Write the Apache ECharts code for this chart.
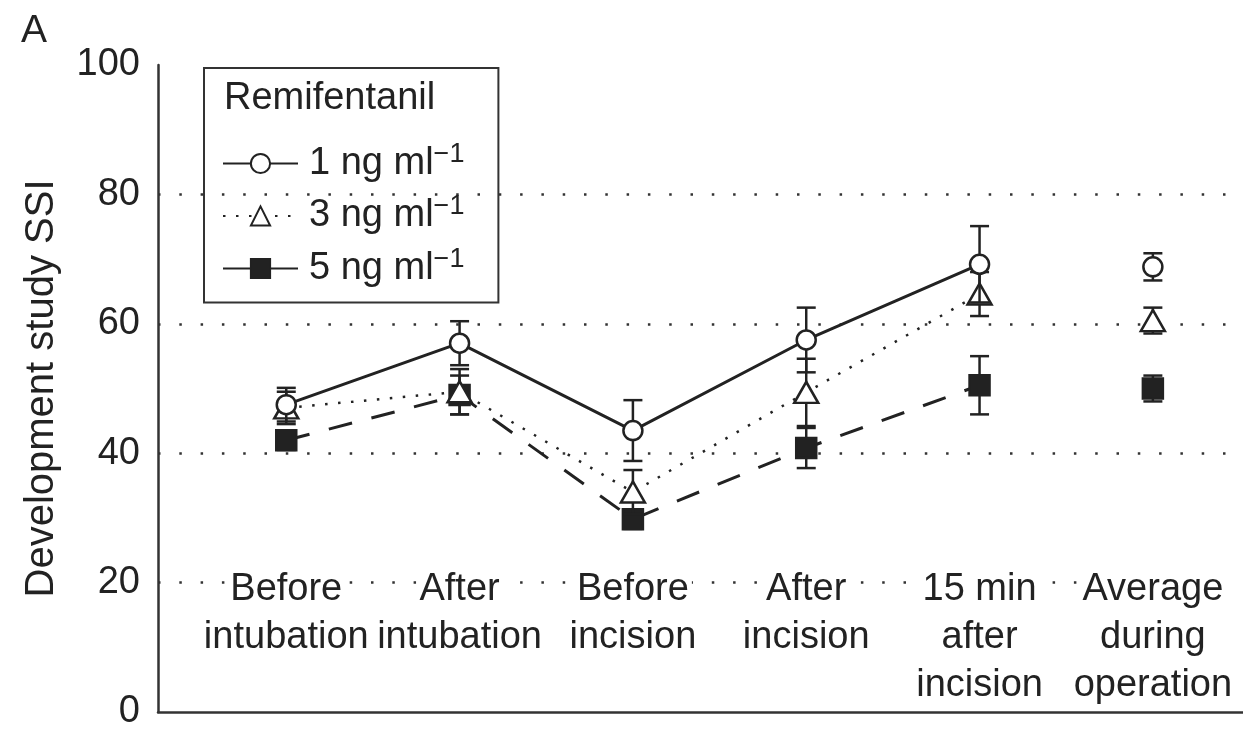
<!DOCTYPE html>
<html><head><meta charset="utf-8">
<script src="https://cdn.jsdelivr.net/npm/echarts@6/dist/echarts.min.js"></script>
<style>html,body{margin:0;padding:0;background:#fff}#c{width:1243px;height:731px}</style>
</head><body><div id="c"></div>
<script>
// ---- data ----
const categories = ['Before\nintubation', 'After\nintubation', 'Before\nincision', 'After\nincision', '15 min\nafter\nincision', 'Average\nduring\noperation'];
const seriesNames = ['1 ng ml−1', '3 ng ml−1', '5 ng ml−1'];
const mean1 = [47.5, 57.0, 43.5, 57.5, 69.2, 68.8];
const se1   = [2.6, 3.4, 4.7, 5.0, 5.9, 2.1];
const mean3 = [47.0, 49.5, 34.0, 49.4, 64.6, 60.5];
const se3   = [2.5, 3.5, 3.4, 5.2, 3.4, 2.0];
const mean5 = [42.0, 49.0, 29.8, 40.8, 50.5, 50.0];
const se5   = [1.5, 3.0, 1.5, 3.1, 4.5, 2.0];
const yTicks = [0, 20, 40, 60, 80, 100];
const legendTitle = 'Remifentanil';
const panelLabel = 'A';
const yName = 'Development study SSI';

const INK = '#222';
const FONT = '"Liberation Sans", Arial, Helvetica, sans-serif';
const nConnected = 5; // "Average during operation" is not joined to the others

const groups = [
  {name: seriesNames[0], mean: mean1, se: se1, symbol: 'circle', size: 19, fill: '#fff', line: {type: 'solid', width: 3}, z: 7},
  {name: seriesNames[1], mean: mean3, se: se3, symbol: 'triangle', size: [24, 21], fill: '#fff', line: {type: [2.5, 10.5], width: 2.5}, z: 5},
  {name: seriesNames[2], mean: mean5, se: se5, symbol: 'rect', size: 20, fill: INK, line: {type: [24, 20], width: 3}, z: 3}
];

function errRender(params, api) {
  const x = api.value(0);
  const lo = api.coord([x, api.value(1)]);
  const hi = api.coord([x, api.value(2)]);
  const w = 9.5;
  const style = {stroke: INK, lineWidth: 2.5, fill: null};
  return {type: 'group', children: [
    {type: 'line', shape: {x1: lo[0], y1: lo[1], x2: hi[0], y2: hi[1]}, style},
    {type: 'line', shape: {x1: lo[0] - w, y1: lo[1], x2: lo[0] + w, y2: lo[1]}, style},
    {type: 'line', shape: {x1: hi[0] - w, y1: hi[1], x2: hi[0] + w, y2: hi[1]}, style}
  ]};
}

const series = [];
groups.forEach(g => {
  series.push({
    type: 'custom', name: g.name + ' SE', z: g.z - 1, silent: true,
    renderItem: errRender,
    data: g.mean.map((v, i) => [i, v - g.se[i], v + g.se[i]])
  });
  series.push({
    type: 'line', name: g.name, z: g.z,
    symbol: g.symbol, symbolSize: g.size, showAllSymbol: true,
    itemStyle: {color: g.fill, borderColor: INK, borderWidth: 2.5},
    lineStyle: {color: INK, width: g.line.width, type: g.line.type, cap: 'butt'},
    data: g.mean.slice(0, nConnected).map((v, i) => [i, v])
  });
  series.push({
    type: 'scatter', name: g.name, z: g.z,
    symbol: g.symbol, symbolSize: g.size,
    itemStyle: {color: g.fill, borderColor: INK, borderWidth: 2.5, opacity: 1},
    data: g.mean.slice(nConnected).map((v, i) => [i + nConnected, v])
  });
});

const option = {
  animation: false,
  backgroundColor: '#fff',
  textStyle: {fontFamily: FONT, color: INK},
  title: [
    {text: panelLabel, left: 21, top: 12, padding: 0, textStyle: {fontFamily: FONT, fontSize: 39, fontWeight: 'normal', color: INK}},
    {text: legendTitle, left: 224, top: 80, padding: 0, textStyle: {fontFamily: FONT, fontSize: 38, fontWeight: 'normal', color: INK}}
  ],
  legend: {
    orient: 'vertical', left: 204, top: 68,
    padding: [73, 34, 15, 18],
    borderColor: '#333', borderWidth: 2,
    itemWidth: 75, itemHeight: 24, itemGap: 11,
    data: groups.map((g, i) => i === 2 ? {name: g.name, lineStyle: {type: 'solid'}} : {name: g.name}),
    formatter: n => { const p = n.split('−'); return '{t|' + p[0] + '}{s|−' + p[1] + '}'; },
    textStyle: {
      fontFamily: FONT, color: INK, fontSize: 38, padding: [0, 0, 0, 6],
      rich: {
        t: {fontFamily: FONT, fontSize: 38, lineHeight: 44, color: INK},
        s: {fontFamily: FONT, fontSize: 27, color: INK, padding: [0, 0, 18, 0]}
      }
    }
  },
  grid: {left: 158, right: 0, top: 65, bottom: 16, containLabel: false},
  xAxis: {
    type: 'value', min: -0.74, max: 5.52,
    axisLine: {show: true, onZero: false, lineStyle: {color: '#333', width: 2.5}},
    axisTick: {show: false},
    splitLine: {show: false},
    axisLabel: {
      customValues: categories.map((c, i) => i),
      formatter: v => categories[Math.round(v)].split('\n').map(s => '{b|' + s + '}').join('\n'),
      inside: true, margin: 146, verticalAlign: 'top', align: 'center',
      fontFamily: FONT, fontSize: 38, lineHeight: 48, color: INK,
      rich: {
        b: {fontFamily: FONT, fontSize: 38, lineHeight: 48, color: INK, backgroundColor: '#fff', padding: [0, 3, 0, 3]}
      }
    }
  },
  yAxis: {
    type: 'value', min: yTicks[0], max: yTicks[yTicks.length - 1], interval: yTicks[1] - yTicks[0],
    name: yName, nameLocation: 'middle', nameGap: 96, nameRotate: 90,
    nameTextStyle: {fontFamily: FONT, fontSize: 40, color: INK},
    axisLine: {show: true, onZero: false, lineStyle: {color: '#333', width: 2.5}},
    axisTick: {show: false},
    axisLabel: {margin: 18, fontFamily: FONT, fontSize: 38, color: INK},
    splitLine: {show: true, showMinLine: false, showMaxLine: false, lineStyle: {color: '#333', width: 2.5, type: [2.5, 18.8]}}
  },
  series
};
const chart = echarts.init(document.getElementById('c'), null, {renderer: 'canvas'});
chart.setOption(option);
</script>
</body></html>
